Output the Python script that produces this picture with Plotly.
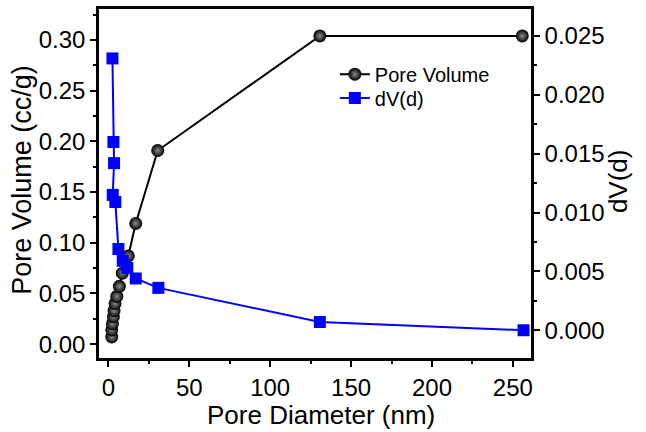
import plotly.graph_objects as go

# Pore volume (left axis)
d_pv = [2.1, 2.1, 2.5, 3.1, 3.5, 4.1, 5.2, 6.8, 8.6, 12.3, 16.9, 30.5, 130.7, 255.8]
pore_volume = [0.007, 0.014, 0.020, 0.027, 0.033, 0.040, 0.047, 0.057, 0.070, 0.087, 0.119, 0.191, 0.304, 0.304]

# dV(d) (right axis)
d_dv = [2.5, 3.1, 3.5, 2.7, 4.3, 6.2, 8.9, 11.7, 16.9, 30.9, 130.7, 256.6]
dv = [0.0231, 0.0160, 0.0142, 0.0115, 0.0109, 0.0069, 0.0059, 0.0053, 0.0044, 0.0036, 0.0007, 0.0000]

x_ticks = [0, 50, 100, 150, 200, 250]

FONT = "Arial, Liberation Sans, sans-serif"

fig = go.Figure()
fig.add_trace(go.Scatter(
    x=d_pv, y=pore_volume, mode="lines+markers", name="Pore Volume", legend="legend",
    line=dict(color="black", width=2),
    marker=dict(symbol="circle", size=13, color="black",
                gradient=dict(type="radial", color="#8c8c8c"),
                line=dict(width=0)),
))
fig.add_trace(go.Scatter(
    x=d_dv, y=dv, yaxis="y2", mode="lines+markers", name="dV(d)", legend="legend2",
    line=dict(color="#0000ff", width=2),
    marker=dict(symbol="square", size=12, color="#0000ff", line=dict(width=0)),
))

axis_common = dict(
    showgrid=False, zeroline=False, showline=True, linecolor="black", linewidth=2.5,
    ticks="outside", ticklen=6, tickwidth=2, tickcolor="black",
    tickfont=dict(family=FONT, size=24, color="black"),
)

legend_common = dict(xanchor="left", yanchor="top", bgcolor="rgba(0,0,0,0)",
                     font=dict(family=FONT, size=20, color="black"))

fig.update_layout(
    width=646, height=432,
    margin=dict(l=99, r=115, t=6, b=74),
    plot_bgcolor="white", paper_bgcolor="white",
    font=dict(family=FONT, color="black"),
    xaxis=dict(range=[-5.8, 261.2], tickvals=x_ticks, mirror=True,
               minor=dict(ticks="outside", ticklen=3, tickwidth=2, tickcolor="black", dtick=25, tick0=0),
               **axis_common),
    yaxis=dict(range=[-0.0137, 0.3306], tick0=0, dtick=0.05, tickformat=".2f",
               minor=dict(ticks="outside", ticklen=3, tickwidth=2, tickcolor="black", dtick=0.025, tick0=0),
               **axis_common),
    yaxis2=dict(overlaying="y", side="right", range=[-0.00236, 0.0273], tick0=0, dtick=0.005,
                tickformat=".3f",
                minor=dict(ticks="outside", ticklen=3, tickwidth=2, tickcolor="black", dtick=0.0025, tick0=0),
                **axis_common),
    showlegend=True,
    legend=dict(x=0.546, y=0.869, **legend_common),
    legend2=dict(x=0.546, y=0.801, **legend_common),
    annotations=[
        dict(text="Pore Diameter (nm)", xref="paper", yref="paper", x=0.514, y=-0.162,
             xanchor="center", yanchor="middle", showarrow=False, font=dict(size=26)),
        dict(text="Pore Volume (cc/g)", xref="paper", yref="paper", x=-0.178, y=0.511,
             xanchor="center", yanchor="middle", textangle=-90, showarrow=False, font=dict(size=27)),
        dict(text="dV(d)", xref="paper", yref="paper", x=1.203, y=0.506,
             xanchor="center", yanchor="middle", textangle=-90, showarrow=False, font=dict(size=26)),
    ],
)

fig.write_html("out.html")
